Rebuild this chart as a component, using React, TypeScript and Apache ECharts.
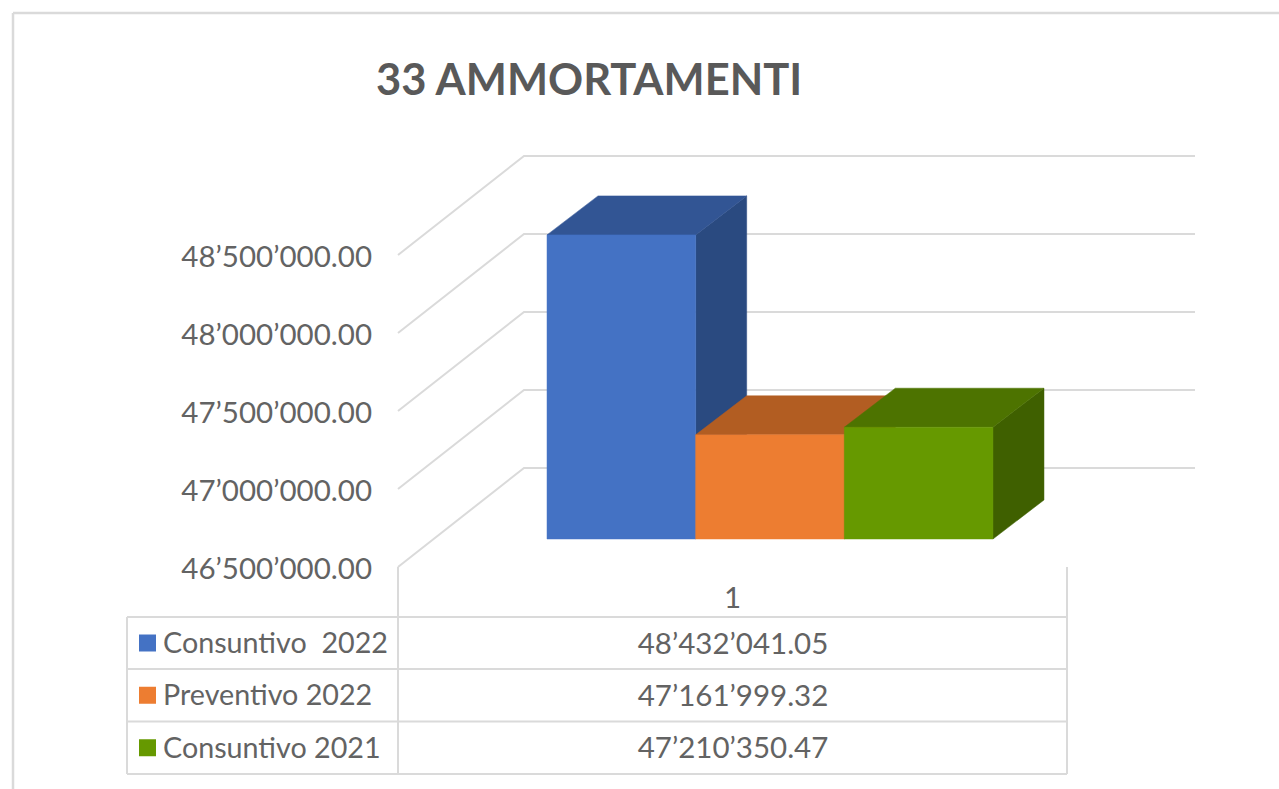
import React, { useEffect, useRef } from "react";
import * as echarts from "echarts";

const titleText = "33 AMMORTAMENTI";
const categories = ["1"];
const seriesNames = ["Consuntivo  2022", "Preventivo 2022", "Consuntivo 2021"];
const seriesValues = [48432041.05, 47161999.32, 47210350.47];
const gridTicks = [46500000, 47000000, 47500000, 48000000, 48500000];
const frontColors = ["#4472C4", "#ED7D31", "#669900"];
const topColors = ["#325594", "#B25D22", "#4D7300"];
const sideColors = ["#2A4A80", "#9E5220", "#3F6000"];

const FONT = "Lato";
const TEXT = "#636363";
const LINE = "#DADADA";

function fmt(v: number): string {
  const [i, d] = v.toFixed(2).split(".");
  return i.replace(/\B(?=(\d{3})+(?!\d))/g, "’") + "." + d;
}

const WALL_DX = 126;
const WALL_DY = 99;
const WALL_RIGHT = 1195;
const BAR_DX = 51;
const BAR_DY = 39;
const FLOOR_DX = 37.5;
const FLOOR_DY = 28;
const BAR_SHARE = 0.2222;
const BAR_SCALE = 1.009;

export default function App() {
  const ref = useRef<HTMLDivElement>(null);
  useEffect(() => {
    document.body.style.margin = "0";
    const chart = echarts.init(ref.current!, undefined, { renderer: "svg" });

    const barRender = (index: number) => (_p: any, api: any) => {
      const base = api.coord([0, gridTicks[0]]);
      const top = api.coord([0, api.value(1)]);
      const band = api.size([1, 0])[0];
      const w = band * BAR_SHARE;
      const x0 = base[0] + FLOOR_DX + (index - 1.5) * w;
      const x1 = x0 + w;
      const yb = base[1] - FLOOR_DY;
      const yt = yb - (base[1] - top[1]) * BAR_SCALE;
      const poly = (points: number[][], fill: string) => ({
        type: "polygon",
        shape: { points },
        style: { fill, stroke: fill, lineWidth: 0.5 },
      });
      return {
        type: "group",
        children: [
          poly([[x1, yt], [x1 + BAR_DX, yt - BAR_DY], [x1 + BAR_DX, yb - BAR_DY], [x1, yb]], sideColors[index]),
          poly([[x0, yt], [x0 + BAR_DX, yt - BAR_DY], [x1 + BAR_DX, yt - BAR_DY], [x1, yt]], topColors[index]),
          poly([[x0, yb], [x0, yt], [x1, yt], [x1, yb]], frontColors[index]),
        ],
      };
    };

    const wallRender = (_p: any, api: any) => {
      const c = api.coord([0, api.value(1)]);
      const band = api.size([1, 0])[0];
      const xl = c[0] - band / 2;
      return {
        type: "polyline",
        shape: { points: [[xl, c[1]], [xl + WALL_DX, c[1] - WALL_DY], [WALL_RIGHT, c[1] - WALL_DY]] },
        style: { fill: "none", stroke: LINE, lineWidth: 2 },
      };
    };

    const tableLeft = 127, tableMid = 398, tableRight = 1067;
    const rowYs = [617, 669, 721.5, 774];
    const lineEl = (x1: number, y1: number, x2: number, y2: number, w = 2, stroke = LINE) => ({
      type: "line",
      shape: { x1, y1, x2, y2 },
      style: { stroke, lineWidth: w },
      z: 1,
    });
    const graphics: any[] = [
      lineEl(13, 13, 1279, 13, 2.5),
      lineEl(13, 13, 13, 789, 2.5),
      lineEl(tableMid, 567, tableMid, 774),
      lineEl(tableRight, 567, tableRight, 774),
      lineEl(tableLeft, 617, tableLeft, 774),
      ...rowYs.map((y) => lineEl(tableLeft, y, tableRight, y)),
    ];
    seriesNames.forEach((name, i) => {
      const cy = (rowYs[i] + rowYs[i + 1]) / 2;
      graphics.push({
        type: "rect",
        shape: { x: 139, y: cy - 8.5, width: 17, height: 17 },
        style: { fill: frontColors[i] },
        z: 2,
      });
      graphics.push({
        type: "text",
        x: 163,
        y: cy - 1,
        style: { text: name, font: `28.7px ${FONT}`, fill: TEXT, textAlign: "left", textVerticalAlign: "middle" },
        z: 2,
      });
      graphics.push({
        type: "text",
        x: 733,
        y: cy - 1,
        style: { text: fmt(seriesValues[i]), font: `29.5px ${FONT}`, fill: TEXT, textAlign: "center", textVerticalAlign: "middle" },
        z: 2,
      });
    });

    chart.setOption({
      animation: false,
      backgroundColor: "#FFFFFF",
      textStyle: { fontFamily: FONT },
      title: {
        text: titleText,
        left: 371,
        top: 51,
        textStyle: { fontFamily: FONT, fontSize: 43.5, fontWeight: "bold", color: "#595959" },
      },
      grid: { left: 398, top: 255, width: 669, height: 312 },
      xAxis: {
        type: "category",
        data: categories,
        axisLine: { show: false },
        axisTick: { show: false },
        axisLabel: { color: TEXT, fontSize: 29.5, fontFamily: FONT, margin: 14 },
      },
      yAxis: {
        type: "value",
        min: 46500000,
        max: 48500000,
        interval: 500000,
        splitLine: { show: false },
        axisLine: { show: false },
        axisTick: { show: false },
        axisLabel: { color: TEXT, fontSize: 29.5, fontFamily: FONT, margin: 26, padding: [4, 0, 0, 0], formatter: (v: number) => fmt(v) },
      },
      graphic: graphics,
      series: [
        {
          type: "custom",
          name: "grid",
          renderItem: wallRender,
          data: gridTicks.map((t) => [0, t]),
          encode: { x: 0, y: 1 },
          z: 1,
          silent: true,
        },
        ...seriesNames.map((name, i) => ({
          type: "custom",
          name,
          renderItem: barRender(i),
          data: [[0, seriesValues[i]]],
          encode: { x: 0, y: 1 },
          z: 2 + i,
        })),
      ],
    });
    return () => chart.dispose();
  }, []);
  return <div ref={ref} style={{ position: "fixed", left: 0, top: 0, width: 1279, height: 789 }} />;
}
